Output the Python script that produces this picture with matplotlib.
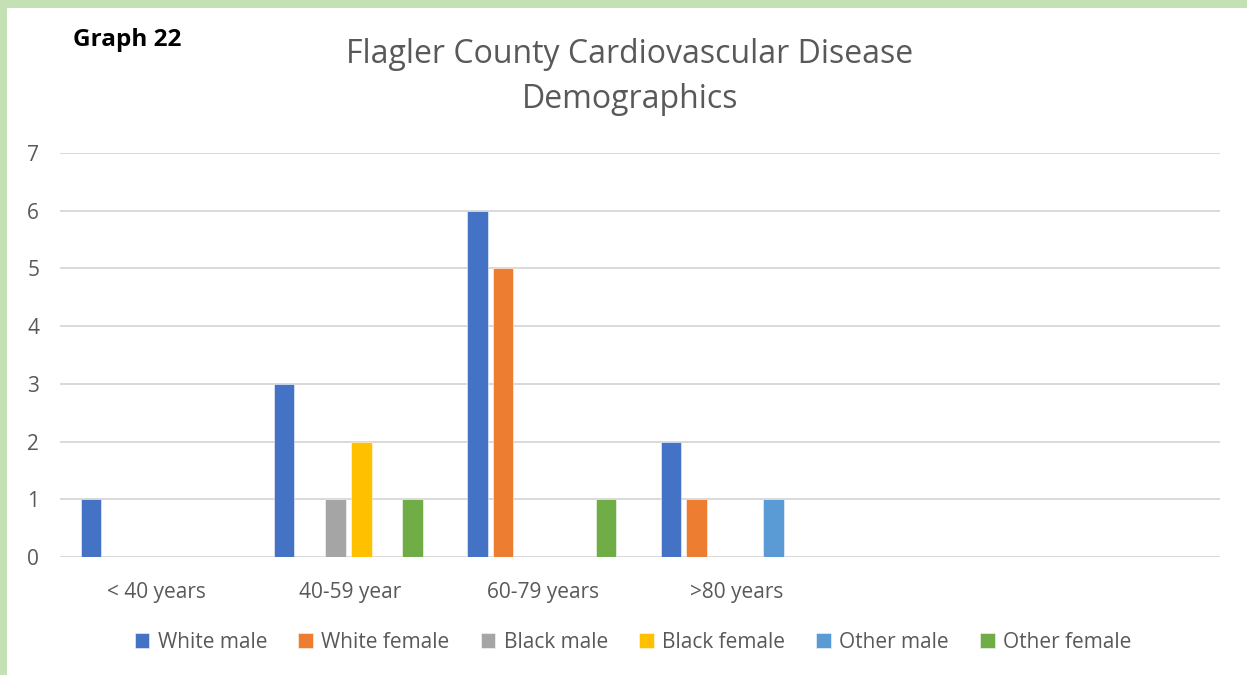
import matplotlib
matplotlib.use("Agg")
import matplotlib.pyplot as plt
import numpy as np
from matplotlib.patches import Rectangle

categories = ["< 40 years", "40-59 year", "60-79 years", ">80 years", "", ""]
series_names = ["White male", "White female", "Black male", "Black female", "Other male", "Other female"]
white_male = [1, 3, 6, 2, 0, 0]
white_female = [0, 0, 5, 1, 0, 0]
black_male = [0, 1, 0, 0, 0, 0]
black_female = [0, 2, 0, 0, 0, 0]
other_male = [0, 0, 0, 1, 0, 0]
other_female = [0, 1, 1, 0, 0, 0]
colors = ["#4472C4", "#ED7D31", "#A5A5A5", "#FFC000", "#5B9BD5", "#70AD47"]
title = "Flagler County Cardiovascular Disease\nDemographics"
yticks = [0, 1, 2, 3, 4, 5, 6, 7]

W, H = 1247, 675
fig = plt.figure(figsize=(W / 100, H / 100), dpi=100)
fig.patch.set_facecolor("white")
FONT = "Open Sans"
plt.rcParams["font.family"] = [FONT, "DejaVu Sans"]

ax = fig.add_axes([60 / W, 1 - 557 / H, (1220 - 60) / W, (557 - 153) / H])
all_series = [white_male, white_female, black_male, black_female, other_male, other_female]
x = np.arange(len(categories))
slot = 0.133
bw = 0.106
shift = -0.008
for j, (name, vals, c) in enumerate(zip(series_names, all_series, colors)):
    ax.bar(x + (j - 2.5) * slot + shift, vals, width=bw, color=c, label=name,
           edgecolor=(1, 1, 1, 0.6), linewidth=0.6, zorder=3)

ax.set_xlim(-0.5, len(categories) - 0.5)
ax.set_ylim(0, 7)
ax.set_yticks(yticks)
ax.set_xticks(x)
ax.set_xticklabels(categories)
ax.yaxis.grid(True, color="#D9D9D9", linewidth=1.4, zorder=0)
ax.set_axisbelow(True)
for s in ax.spines.values():
    s.set_visible(False)
ax.tick_params(axis="both", length=0, labelsize=15, labelcolor="#595959")
ax.tick_params(axis="x", pad=18)
ax.tick_params(axis="y", pad=15)

fig.text(0.505, 1 - 77 / H, title, ha="center", va="center", fontsize=23,
         color="#595959", linespacing=1.5)
fig.text(73 / W, 1 - 40 / H, "Graph 22", ha="left", va="center", fontsize=17.5,
         fontweight="bold", color="black")

fig.legend(loc="center", bbox_to_anchor=(633 / W, 1 - 642 / H), ncol=6, frameon=False,
           fontsize=15, handlelength=0.7, handleheight=0.7, handletextpad=0.4,
           columnspacing=1.5, labelcolor="#595959")

# green frame
fig.patches.append(Rectangle((0, 1 - 8 / H), 1, 8 / H, transform=fig.transFigure,
                             facecolor="#C5E0B4", edgecolor="none", zorder=0))
fig.patches.append(Rectangle((0, 0), 7 / W, 1, transform=fig.transFigure,
                             facecolor="#C5E0B4", edgecolor="none", zorder=0))

fig.savefig("out.png", dpi=100)
